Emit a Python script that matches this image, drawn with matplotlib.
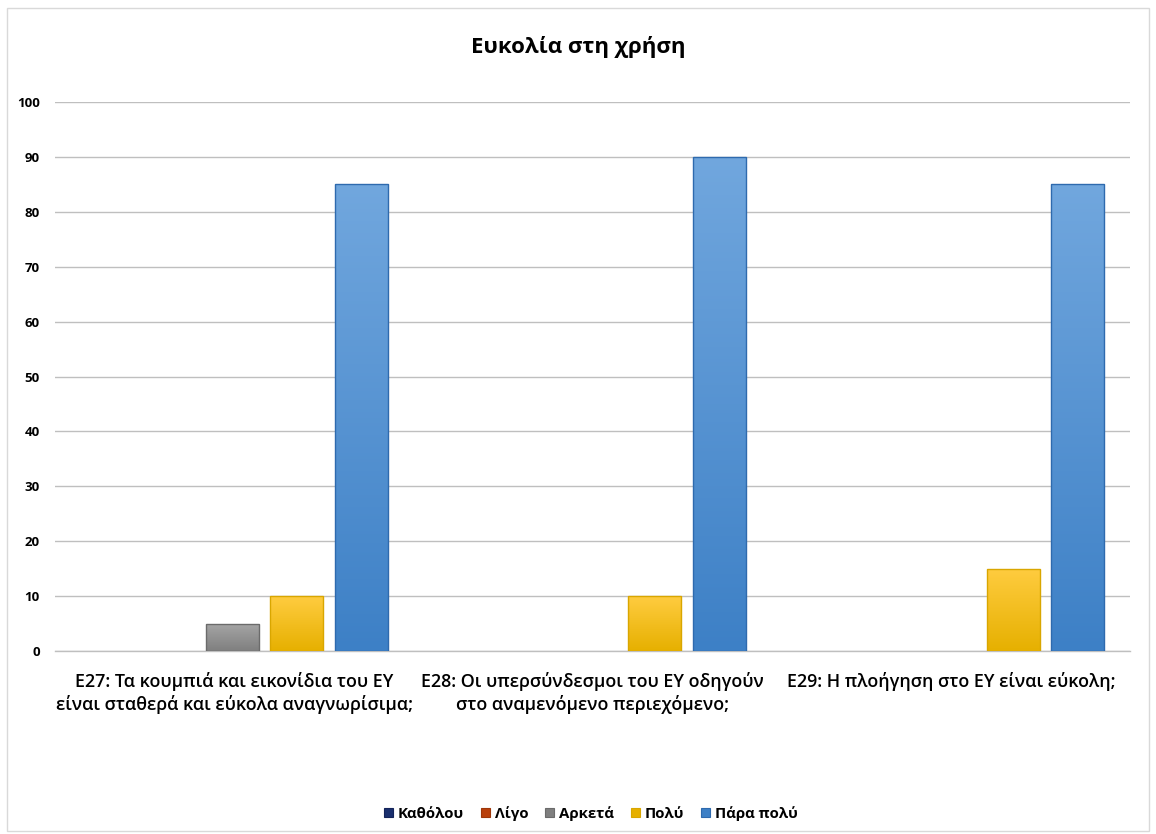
import numpy as np
import matplotlib.pyplot as plt
from matplotlib.colors import LinearSegmentedColormap

plt.rcParams['font.family'] = ['Open Sans', 'DejaVu Sans']

# ---- data ----
questions = [
    "E27: Τα κουμπιά και εικονίδια του ΕΥ\nείναι σταθερά και εύκολα αναγνωρίσιμα;",
    "E28: Οι υπερσύνδεσμοι του ΕΥ οδηγούν\nστο αναμενόμενο περιεχόμενο;",
    "E29: Η πλοήγηση στο ΕΥ είναι εύκολη;",
]
answers = ["Καθόλου", "Λίγο", "Αρκετά", "Πολύ", "Πάρα πολύ"]
katholou = [0, 0, 0]
ligo = [0, 0, 0]
arketa = [5, 0, 0]
poly = [10, 10, 15]
para_poly = [85, 90, 85]
yticks = list(range(0, 101, 10))

series = [katholou, ligo, arketa, poly, para_poly]
# (top colour, bottom colour, edge)
styles = [
    ("#2E4C9A", "#1A2F6E", "#14245A"),
    ("#E2692A", "#B9400C", "#9E370A"),
    ("#A6A6A6", "#7F7F7F", "#6B6B6B"),
    ("#FFCC40", "#E6B000", "#D9A600"),
    ("#71A7DE", "#3D80C6", "#2E6AAE"),
]

fig = plt.figure(figsize=(11.56, 8.34), dpi=100)
ax = fig.add_axes([0.0476, 0.2194, 0.9299, 0.6583])

x = np.arange(len(questions))
pitch = 0.18
width = 0.148
offsets = (np.arange(len(answers)) - 2) * pitch - 0.006

handles = []
for vals, name, off, (c_top, c_bot, c_edge) in zip(series, answers, offsets, styles):
    bars = ax.bar(x + off, vals, width, color=c_bot, linewidth=0,
                  label=name, zorder=3)
    handles.append(bars)
    cmap = LinearSegmentedColormap.from_list(name, [c_bot, c_top])
    grad = np.linspace(0, 1, 256).reshape(-1, 1)
    for b in bars:
        h = b.get_height()
        if h <= 0:
            continue
        x0 = b.get_x()
        im = ax.imshow(grad, cmap=cmap, origin="lower", aspect="auto",
                       extent=[x0, x0 + b.get_width(), 0, h], zorder=3.5,
                       interpolation="bicubic")
        im.set_clip_path(b)
        ax.bar(x0 + b.get_width() / 2, h, b.get_width(), fill=False,
               edgecolor=c_edge, linewidth=1.0, zorder=4)

ax.set_xlim(-0.5, len(questions) - 0.5)
ax.set_ylim(0, 100)
ax.set_yticks(yticks)
ax.set_yticklabels([str(t) for t in yticks], fontsize=9.5, fontweight="bold")
ax.set_xticks(x)
ax.set_xticklabels(questions, fontsize=12.9, fontweight="semibold",
                   linespacing=1.3)
ax.tick_params(axis="both", length=0)
ax.tick_params(axis="y", pad=11)
ax.tick_params(axis="x", pad=15)
ax.grid(axis="y", color="#BFBFBF", linewidth=1.0, zorder=0)
for side in ("left", "right", "top"):
    ax.spines[side].set_visible(False)
ax.spines["bottom"].set_color("#BFBFBF")
ax.spines["bottom"].set_linewidth(1.0)

fig.text(0.5, 0.944, "Ευκολία στη χρήση", ha="center", va="center",
         fontsize=16, fontweight="bold")

leg = fig.legend(handles=handles, labels=answers, loc="center",
                 bbox_to_anchor=(0.511, 0.025), ncol=5, frameon=False,
                 prop={"weight": "bold", "size": 10.8},
                 handlelength=0.6, handleheight=0.6, handletextpad=0.35,
                 columnspacing=1.1)
for patch, (_, _, c_edge) in zip(leg.get_patches(), styles):
    patch.set_edgecolor(c_edge)
    patch.set_linewidth(0.8)

# thin chart border
border = plt.Rectangle((0.006, 0.003), 0.988, 0.987, transform=fig.transFigure,
                       fill=False, edgecolor="#D9D9D9", linewidth=1.0)
fig.patches.append(border)

fig.savefig("out.png", dpi=100)
